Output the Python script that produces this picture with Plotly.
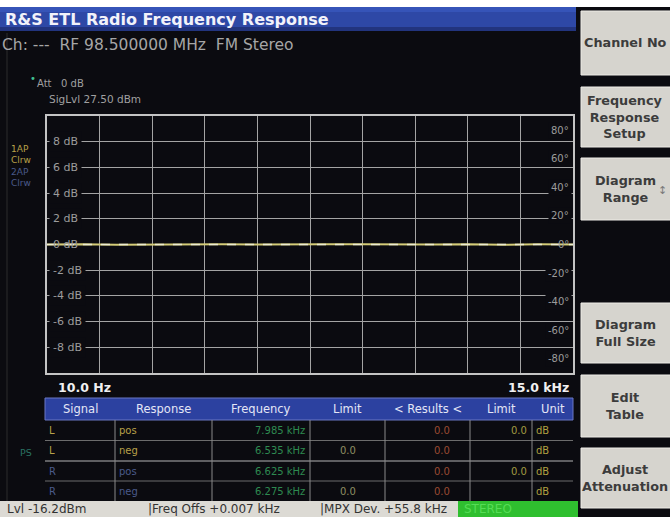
"""R&S ETL radio frequency response screen, rebuilt with Plotly."""
import plotly.graph_objects as go

W, H = 670, 517
BG = "#0b0b10"
GRID = "#a4a4a4"
FRAME = "#c4c4c4"
LBL = "#9c9c9c"
YEL = "#b8a048"
BLU = "#4a5a8a"
FONT = "DejaVu Sans"
SP = "\u00a0"

# trace data (flat response)
freq_hz = [10, 1000, 2000, 3000, 4000, 5000, 6000, 7000, 8000,
           9000, 10000, 11000, 12000, 13000, 14000, 15000]
mag_db = [0.0, 0.02, -0.02, 0.01, -0.01, 0.02, 0.0, -0.02,
          0.01, 0.02, -0.01, 0.0, 0.02, -0.02, 0.01, 0.0]
phase_deg = [0.0, 0.0, 0.0, 0.0, 0.0, 0.0, 0.0, 0.0,
             0.0, 0.0, 0.0, 0.0, 0.0, 0.0, 0.0, 0.0]

db_ticks = [8, 6, 4, 2, 0, -2, -4, -6, -8]
deg_ticks = [80, 60, 40, 20, 0, -20, -40, -60, -80]

# result table
tbl_header = ["Signal", "Response", "Frequency", "Limit", "< Results <", "Limit", "Unit"]
tbl_signal = ["L", "L", "R", "R"]
tbl_response = ["pos", "neg", "pos", "neg"]
tbl_freq = ["7.985 kHz", "6.535 kHz", "6.625 kHz", "6.275 kHz"]
tbl_lo = ["", "0.0", "", "0.0"]
tbl_result = ["0.0", "0.0", "0.0", "0.0"]
tbl_hi = ["0.0", "", "0.0", ""]
tbl_unit = ["dB", "dB", "dB", "dB"]

softkeys = [("Channel No", 11, 75), ("Frequency<br>Response<br>Setup", 87, 147),
            ("Diagram<br>Range", 158, 220), ("Diagram<br>Full Size", 303, 363),
            ("Edit<br>Table", 375, 437), ("Adjust<br>Attenuation", 448, 508)]

# table geometry in screen pixels
col_x = [45, 115, 212, 310, 385, 470, 532, 573]
row_y = [398, 420, 440.5, 461, 481, 501]


def px(x):
    return x / W


def py(y):
    return 1 - y / H


def rect(x0, y0, x1, y1, fill, line=None, layer="below"):
    return dict(type="rect", xref="paper", yref="paper",
                x0=px(x0), x1=px(x1), y0=py(y1), y1=py(y0),
                fillcolor=fill, line=dict(width=1 if line else 0, color=line or fill),
                layer=layer)


def hline(x0, x1, y, color, width=1):
    return dict(type="line", xref="paper", yref="paper", x0=px(x0), x1=px(x1),
                y0=py(y), y1=py(y), line=dict(color=color, width=width), layer="below")


def vline(x, y0, y1, color, width=1):
    return dict(type="line", xref="paper", yref="paper", x0=px(x), x1=px(x),
                y0=py(y0), y1=py(y1), line=dict(color=color, width=width), layer="below")


def text(x, y, s, size=10, color=LBL, anchor="left", bold=False, bg=None):
    return dict(xref="paper", yref="paper", x=px(x), y=py(y), text=f"<b>{s}</b>" if bold else s,
                showarrow=False, xanchor=anchor, yanchor="middle",
                font=dict(size=size, color=color, family=FONT), bgcolor=bg)


fig = go.Figure()

fig.add_trace(go.Scatter(x=freq_hz, y=mag_db, mode="lines", yaxis="y",
                         line=dict(color="#d4cc78", width=2), hoverinfo="skip"))
fig.add_trace(go.Scatter(x=freq_hz, y=phase_deg, mode="lines", yaxis="y2",
                         line=dict(color="#ecebd2", width=1.5, dash="dash"), hoverinfo="skip"))

shapes = [
    rect(0, 0, W, 7, "#ffffff"),
    rect(0, 7, 576, 31, "#2e48a6"),
    rect(0, 7, 576, 12, "#3654b8"),
    rect(0, 27, 576, 31, "#22347e"),
    rect(0, 501, 578, H, "#dcdad4"),
    rect(458, 501, 578, H, "#2fbf2f"),
    vline(7, 501, 33, "#2c2c2c"),
    # table header bar and grid
    rect(col_x[0], row_y[0], col_x[-1], row_y[1], "#2c41a0", "#6a78c4"),
    hline(col_x[0], col_x[-1], row_y[2], "#6c6c6c"),
    hline(col_x[0], col_x[-1], row_y[3], "#b4b4b4"),
    hline(col_x[0], col_x[-1], row_y[4], "#6c6c6c"),
]
for cx in col_x[1:-1]:
    shapes.append(vline(cx, row_y[1], row_y[-1], "#8a8a8a"))
for label, top, bot in softkeys:
    shapes.append(rect(581, top, W + 2, bot, "#d6d4ce", "#eeece6"))

ann = [
    text(3, 20, "R&S ETL Radio Frequency Response", 16, "#f2f2fa", bold=True),
    text(0, 45, f"Ch: ---{SP}{SP}RF 98.500000 MHz{SP}{SP}FM Stereo", 15.5, "#a6a6a6"),
    text(28, 78, "•", 10, "#40c090"),
    text(35, 83, f"Att{SP}{SP}{SP}0 dB", 10, "#a0a0a0"),
    text(47, 99, "SigLvl 27.50 dBm", 10.5, "#a0a0a0"),
    text(9, 149, "1AP", 9, YEL),
    text(9, 160, "Clrw", 9, YEL),
    text(9, 172, "2AP", 9, BLU),
    text(9, 183, "Clrw", 9, BLU),
    text(56, 387, "10.0 Hz", 12.5, "#f0f0f0", bold=True),
    text(571, 387, "15.0 kHz", 12.5, "#f0f0f0", "right", bold=True),
    text(26, 452, "PS", 9.5, "#2a7262", "center"),
    text(5, 509, "Lvl -16.2dBm", 12, "#333333"),
    text(146, 509, "|Freq Offs +0.007 kHz", 12, "#333333"),
    text(318, 509, "|MPX Dev. +55.8 kHz", 12, "#333333"),
    text(462, 509, "STEREO", 12, "#55dd55"),
    text(669, 190, "↕", 11, "#7a7a7a", "right"),
]
for label, top, bot in softkeys:
    ann.append(text(625, (top + bot) / 2, label, 12.8, "#3c3c3c", "center", bold=True))

# table texts
for i, h in enumerate(tbl_header):
    ann.append(text((col_x[i] + col_x[i + 1]) / 2, (row_y[0] + row_y[1]) / 2, h,
                    11.5, "#e4e6f6", "center"))
cols = [tbl_signal, tbl_response, tbl_freq, tbl_lo, tbl_result, tbl_hi, tbl_unit]
col_align = ["left", "left", "right", "center", "right", "right", "left"]
col_color = [None, None, "#2e8a50", "#8e8e62", "#9a4a32", "#a09a40", "#b0a040"]
for c, vals in enumerate(cols):
    for r, v in enumerate(vals):
        if not v:
            continue
        if col_align[c] == "left":
            x = col_x[c] + 2
        elif col_align[c] == "right":
            x = col_x[c + 1] - (18 if c == 4 else 3)
        else:
            x = (col_x[c] + col_x[c + 1]) / 2
        color = col_color[c] or (YEL if tbl_signal[r] == "L" else BLU)
        ann.append(text(x, (row_y[r + 1] + row_y[r + 2]) / 2, v, 10, color, col_align[c]))

for v in db_ticks:
    ann.append(dict(xref="paper", yref="y", x=px(48.5), y=v, text=f"{v} dB", showarrow=False,
                    xanchor="left", yanchor="middle", borderpad=3,
                    bgcolor=None if v == 0 else BG,
                    font=dict(size=11, color=LBL, family=FONT)))
for v in deg_ticks:
    ann.append(dict(xref="paper", yref="y2", x=px(572), y=v, text=f"{v}°", showarrow=False,
                    xanchor="right", yanchor="middle", borderpad=2,
                    bgcolor=None if v == 0 else BG,
                    font=dict(size=10, color=LBL, family=FONT)))

fig.update_layout(
    width=W, height=H, margin=dict(l=0, r=0, t=0, b=0),
    paper_bgcolor=BG, plot_bgcolor=BG, showlegend=False,
    font=dict(family=FONT, color=LBL),
    xaxis=dict(domain=[px(47), px(573)], range=[10, 15000], tick0=10, dtick=1499,
               showticklabels=False, ticks="", gridcolor=GRID, gridwidth=1, zeroline=False,
               showline=True, mirror=True, linecolor=FRAME, linewidth=1.5, fixedrange=True),
    yaxis=dict(domain=[py(373), py(116)], range=[-10, 10], tick0=0, dtick=2,
               showticklabels=False, ticks="", gridcolor=GRID, gridwidth=1, zeroline=False,
               showline=True, mirror=True, linecolor=FRAME, linewidth=1.5, fixedrange=True),
    yaxis2=dict(overlaying="y", anchor="x", range=[-90, 90], showgrid=False,
                showticklabels=False, zeroline=False, showline=False, fixedrange=True),
    shapes=shapes, annotations=ann,
)

fig.write_html("out.html", config={"displayModeBar": False},
               post_script="document.body.style.margin='0';document.body.style.overflow='hidden';")
